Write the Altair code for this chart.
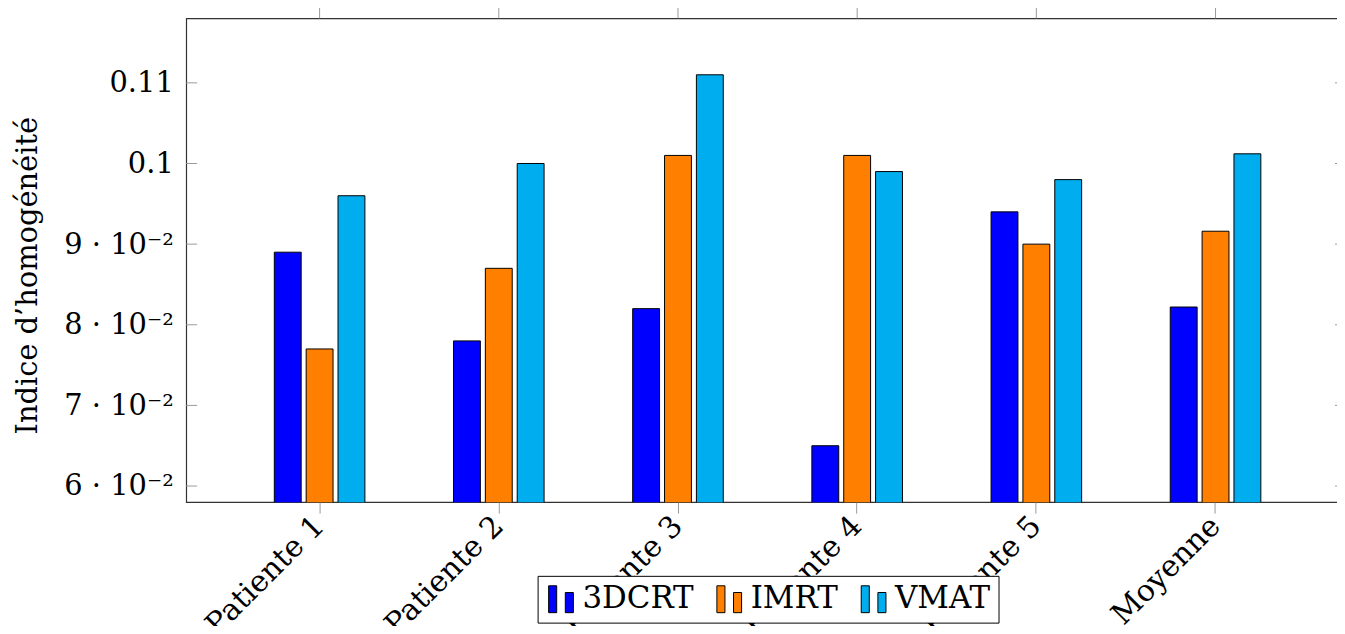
import altair as alt
import pandas as pd

categories = ["Patiente 1", "Patiente 2", "Patiente 3", "Patiente 4", "Patiente 5", "Moyenne"]
series = ["3DCRT", "IMRT", "VMAT"]
v_3dcrt = [0.089, 0.078, 0.082, 0.065, 0.094, 0.0822]
v_imrt = [0.077, 0.087, 0.101, 0.101, 0.090, 0.0916]
v_vmat = [0.096, 0.100, 0.111, 0.099, 0.098, 0.1012]
colors = ["#0000FF", "#FF8000", "#00ADEE"]
y_ticks = [0.06, 0.07, 0.08, 0.09, 0.10, 0.11]
y_domain = [0.058, 0.118]

FONT = "DejaVu Serif"
W, H = 1168, 486

rows = []
for s, vals in zip(series, [v_3dcrt, v_imrt, v_vmat]):
    for c, v in zip(categories, vals):
        rows.append({"cat": c, "serie": s, "val": v})
df = pd.DataFrame(rows)
df_ticks = pd.DataFrame({"v": y_ticks})
df_cats = pd.DataFrame({"cat": categories})

xscale = alt.Scale(domain=categories, paddingInner=1 - 91 / 180, paddingOuter=0.4917)
yscale = alt.Scale(domain=y_domain, nice=False, zero=False)

sym = "M-0.92,-1L-0.32,-1L-0.32,1L-0.92,1Z M0.32,-0.5L0.92,-0.5L0.92,1L0.32,1Z"

bars = alt.Chart(df).mark_bar(clip=True, stroke="black", strokeWidth=1).encode(
    x=alt.X("cat:N", scale=xscale, sort=categories,
            axis=alt.Axis(title=None, labelAngle=-45, labelAlign="right", labelBaseline="middle",
                          labelFont=FONT, labelFontSize=30, labelColor="black", labelPadding=8,
                          tickSize=11, tickColor="#999", domain=False, labelOverlap=False)),
    xOffset=alt.XOffset("serie:N", sort=series,
                        scale=alt.Scale(domain=series, paddingInner=5 / 32, paddingOuter=0)),
    y=alt.Y("val:Q", scale=yscale,
            axis=alt.Axis(title="Indice d’homogénéité", values=y_ticks, ticks=False, tickSize=0,
                          domain=False, grid=False, labelPadding=13,
                          labelExpr="datum.value < 0.095 ? round(datum.value*100) + ' · 10⁻²' : format(datum.value, '~g')",
                          labelFont=FONT, labelFontSize=29, labelColor="black",
                          titleFont=FONT, titleFontSize=29, titleFontWeight="normal", titleColor="black",
                          titleAngle=-90, titleX=-150, titleY=258, titleAlign="center",
                          titleBaseline="alphabetic")),
    color=alt.Color("serie:N", sort=series, scale=alt.Scale(domain=series, range=colors),
                    legend=alt.Legend(orient="none", legendX=353, legendY=560, direction="horizontal",
                                      title=None, symbolType=sym, symbolSize=729,
                                      symbolStrokeColor="black", symbolStrokeWidth=1,
                                      labelFont=FONT, labelFontSize=31, labelColor="black",
                                      fillColor="white", strokeColor="black", padding=8,
                                      columnPadding=20, labelOffset=6)),
)

left_ticks = alt.Chart(df_ticks).mark_rule(color="#999", strokeWidth=1).encode(
    y=alt.Y("v:Q", scale=yscale), x=alt.value(0), x2=alt.value(11))
right_ticks = alt.Chart(df_ticks).mark_rule(color="#999", strokeWidth=1).encode(
    y=alt.Y("v:Q", scale=yscale), x=alt.value(W - 14), x2=alt.value(W))
top_ticks = alt.Chart(df_cats).mark_rule(color="#999", strokeWidth=1).encode(
    x=alt.X("cat:N", scale=xscale, sort=categories), y=alt.value(-11), y2=alt.value(0))

chart = alt.layer(bars, left_ticks, right_ticks, top_ticks).properties(
    width=W, height=H,
    autosize=alt.AutoSizeParams(type="none"),
    padding={"left": 179, "top": 9, "right": -12, "bottom": 123},
).configure(background="white").configure_view(stroke="#333", strokeWidth=1.2)

chart.save("out.html", embed_options={"renderer": "svg", "actions": False})
